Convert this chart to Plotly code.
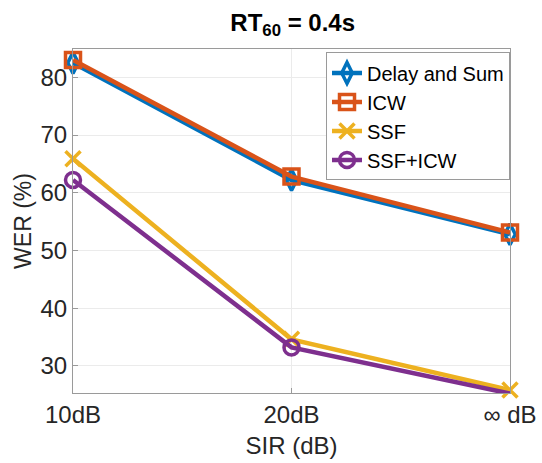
import plotly.graph_objects as go

categories = ["10dB", "20dB", "\u221e dB"]
delay_sum = [82.5, 62.2, 52.8]
icw = [83.0, 62.8, 53.1]
ssf = [65.9, 34.6, 25.8]
ssf_icw = [62.2, 33.2, 25.2]

series = [
    ("Delay and Sum", delay_sum, "#0072BD", "diamond-tall-open"),
    ("ICW", icw, "#D95319", "square-open"),
    ("SSF", ssf, "#EDB120", "x-thin-open"),
    ("SSF+ICW", ssf_icw, "#7E2F8E", "circle-open"),
]

fig = go.Figure()
for name, vals, color, sym in series:
    fig.add_trace(go.Scatter(
        x=[0, 1, 2], y=vals, name=name, mode="lines+markers",
        line=dict(color=color, width=4.5), cliponaxis=False,
        marker=dict(symbol=sym, size=15, color=color, line=dict(color=color, width=3.5)),
    ))

font = "Liberation Sans, Arial, sans-serif"
fig.update_layout(
    width=542, height=463,
    margin=dict(l=73, r=32, t=49, b=70),
    paper_bgcolor="white", plot_bgcolor="white",
    font=dict(family=font, color="#262626"),
    title=dict(text="<b>RT<sub>60</sub> = 0.4s</b>", x=0.54, xanchor="center",
               y=0.952, yanchor="middle", font=dict(size=24, color="black")),
    xaxis=dict(
        tickmode="array", tickvals=[0, 1, 2], ticktext=categories,
        range=[0, 2], showgrid=True, gridcolor="#ebebeb", gridwidth=1,
        showline=True, linecolor="#9a9a9a", linewidth=1, mirror=True,
        ticks="inside", ticklen=5, tickcolor="#9a9a9a",
        tickfont=dict(size=24, color="#262626"), automargin=False,
        title=dict(text="SIR (dB)", font=dict(size=24, color="#262626"), standoff=10),
        zeroline=False,
    ),
    yaxis=dict(
        range=[25.3, 84.9], tickvals=[30, 40, 50, 60, 70, 80],
        showgrid=True, gridcolor="#ebebeb", gridwidth=1,
        showline=True, linecolor="#9a9a9a", linewidth=1, mirror=True,
        ticks="inside", ticklen=5, tickcolor="#9a9a9a",
        tickfont=dict(size=24, color="#262626"), automargin=False,
        title=dict(text="WER (%)", font=dict(size=23, color="#262626"), standoff=2),
        zeroline=False,
    ),
    legend=dict(
        x=1.0, y=0.99, xanchor="right", yanchor="top",
        bgcolor="white", bordercolor="#9a9a9a", borderwidth=1,
        font=dict(size=20, color="black"), tracegroupgap=0,
        itemwidth=30,
    ),
)

fig.write_html("out.html")
